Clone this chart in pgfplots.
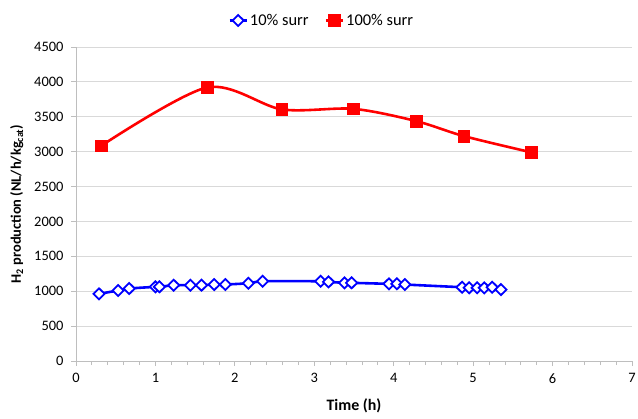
\documentclass[border=0pt]{standalone}
\usepackage{pgfplots}
\pgfplotsset{compat=1.18}
\usepackage{fontspec}
\setmainfont{Carlito}
\definecolor{gridgray}{RGB}{217,217,217}
\definecolor{axgray}{RGB}{190,190,190}
\begin{document}
\begin{tikzpicture}
\begin{axis}[
  scale only axis,
  width=556bp, height=314bp,
  xmin=0, xmax=7, ymin=0, ymax=4500,
  xtick={0,1,...,7}, ytick={0,500,...,4500},
  minor x tick num=4,
  axis x line*=bottom, axis y line*=left,
  axis line style={axgray, line width=0.8pt},
  every tick/.style={axgray, line width=0.8pt},
  major tick length=5bp, minor tick length=4bp,
  tick align=outside,
  ymajorgrids, grid style={gridgray, line width=0.8pt},
  tick label style={font=\fontsize{14.5}{16}\selectfont, black},
  yticklabel style={xshift=-4bp},
  xticklabel style={yshift=-4bp},
  /pgf/number format/assume math mode=true,
  /pgf/number format/1000 sep={},
  xlabel={\bfseries Time (h)},
  ylabel={\bfseries H\textsubscript{2} production (NL/h/kg\textsubscript{cat})},
  xlabel style={font=\fontsize{16}{18}\selectfont, yshift=-8bp},
  ylabel style={font=\fontsize{14.5}{16}\selectfont, yshift=4bp},
  legend style={at={(0.442,1)}, anchor=south, yshift=18bp, draw=none, legend columns=2,
    font=\fontsize{16.5}{18}\selectfont, inner sep=0pt,
    /tikz/every even column/.append style={column sep=14bp}},
  legend cell align=left,
  legend image post style={},
  clip=false,
]
\coordinate (ll) at (rel axis cs:0,0);
\coordinate (ur) at (rel axis cs:1,1);
\addplot[color={rgb,255:red,0;green,0;blue,255}, line width=2.6pt, smooth, tension=0.3, mark=diamond*, mark size=5.5bp,
  mark options={fill=white, draw={rgb,255:red,0;green,0;blue,255}, line width=1.8pt, xscale=1.35}] coordinates {
(0.29,963) (0.53,1010) (0.67,1039) (1.00,1063) (1.05,1063) (1.23,1086) (1.44,1086)
(1.58,1086) (1.74,1096) (1.88,1096) (2.17,1114) (2.35,1143)
(3.08,1143) (3.18,1134) (3.38,1120) (3.47,1120) (3.94,1106) (4.04,1106) (4.14,1096)
(4.86,1057) (4.95,1049) (5.05,1049) (5.14,1049) (5.24,1057) (5.35,1024)
};
\addlegendentry{10\% surr}
\addplot[red, line width=2.6pt, smooth, mark=square*, mark size=5.8bp,
  mark options={fill=red, draw=red, line width=0.5pt}] coordinates {
(0.32,3086) (1.65,3920) (2.59,3606) (3.49,3614) (4.28,3439) (4.88,3224) (5.73,2991)
};
\addlegendentry{100\% surr}
\end{axis}
\pgfresetboundingbox
\path ([shift={(-76bp,-57bp)}]ll) rectangle ([shift={(6bp,47bp)}]ur);
\end{tikzpicture}
\end{document}
